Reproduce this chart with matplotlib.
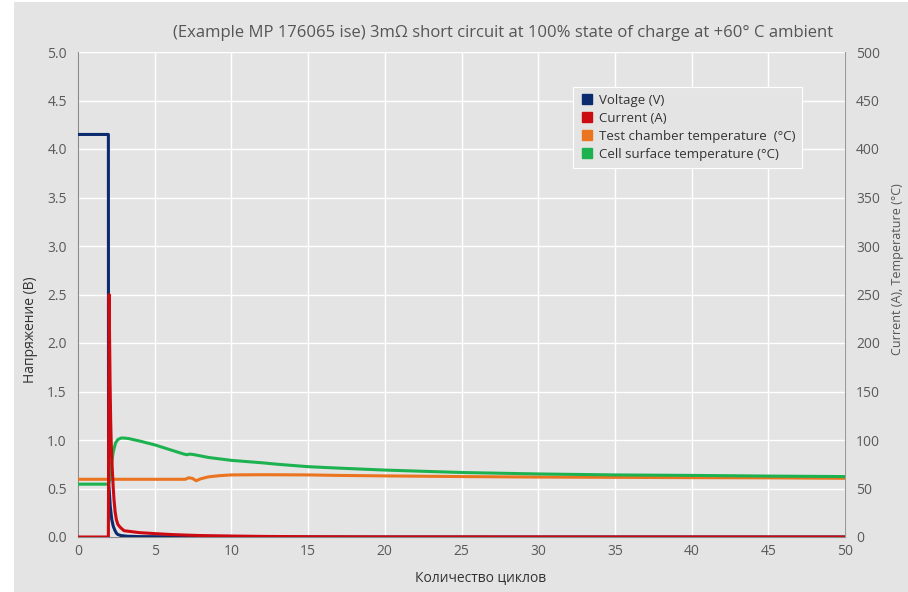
import matplotlib
matplotlib.use("Agg")
import matplotlib.pyplot as plt
from matplotlib.patches import Rectangle
from matplotlib.lines import Line2D

# ---- data ----
volt_x = [0, 1.98, 1.99, 2.0, 2.05, 2.1, 2.2, 2.3, 2.4, 2.5, 2.6, 2.8, 3.2, 4, 10, 50]
volt_y = [4.15, 4.15, 0.65, 0.55, 0.45, 0.32, 0.18, 0.11, 0.07, 0.04, 0.025, 0.015, 0.008, 0.004, 0.0, 0.0]

curr_x = [0, 1.98, 2.03, 2.05, 2.07, 2.09, 2.11, 2.13, 2.16, 2.2, 2.25, 2.3, 2.35, 2.42, 2.5,
          2.6, 2.75, 3.0, 3.5, 4, 5, 6, 7, 8, 10, 12, 15, 20, 30, 50]
curr_y = [0, 0, 250, 215, 190, 160, 140, 120, 100, 82, 65, 50, 38, 26, 18,
          13, 10, 6.5, 5.5, 4.5, 3.5, 2.6, 2.0, 1.5, 1.0, 0.6, 0.3, 0.1, 0.05, 0.0]

cell_x = [0, 2.0, 2.05, 2.15, 2.3, 2.45, 2.6, 2.8, 3.0, 3.3, 4, 5, 6, 6.9, 7.1, 7.3, 7.6,
          8.5, 9.5, 10, 12, 13, 15, 17, 20, 25, 30, 35, 40, 45, 50]
cell_y = [54.5, 54.5, 58, 72, 88, 97, 100.5, 102, 102, 101.5, 99, 95, 90, 85.5, 84.8, 85.5, 84.8,
          82, 80, 79, 76.5, 75, 72.5, 71, 69, 66.5, 65, 64, 63.5, 62.8, 62.3]

chamber_x = [0, 2, 5, 7.0, 7.2, 7.45, 7.7, 8.0, 8.5, 9.2, 10, 12, 15, 17, 20, 25, 30, 35, 40, 45, 50]
chamber_y = [59.5, 59.5, 59.5, 59.5, 61, 60.5, 58, 60, 62, 63.2, 64, 64.2, 64, 63.5, 63, 62.3, 61.8, 61.5, 61.2, 61, 60.5]

title = "(Example MP 176065 ise) 3m\u03a9 short circuit at 100% state of charge at +60\u00b0 C ambient"
legend_labels = ["Voltage (V)", "Current (A)", "Test chamber temperature  (\u00b0C)",
                 "Cell surface temperature (\u00b0C)"]

c_volt = "#0c2a6e"
c_curr = "#cc0a12"
c_chamber = "#ea7420"
c_cell = "#1db250"
bg = "#e4e4e4"
txt = "#5a5a5a"

plt.rcParams['font.family'] = ['Open Sans', 'DejaVu Sans']

fig = plt.figure(figsize=(9.08, 5.92), dpi=100, facecolor="white")
fig.patches.append(Rectangle((14 / 908, 0.0), 1 - 14 / 908, 1 - 2 / 592, transform=fig.transFigure,
                             facecolor=bg, edgecolor="none", zorder=-10))

ax = fig.add_axes([78 / 908, 1 - 537 / 592, (845 - 78) / 908, (537 - 52) / 592])
ax.set_facecolor(bg)
ax2 = ax.twinx()

ax.set_xlim(0, 50)
ax.set_ylim(0, 5.0)
ax2.set_ylim(0, 500)
ax.set_xticks(range(0, 51, 5))
ax.set_yticks([i * 0.5 for i in range(11)])
ax.set_yticklabels([f"{i * 0.5:.1f}" for i in range(11)])
ax2.set_yticks(range(0, 501, 50))

ax.grid(True, color="white", linewidth=1.0)
ax.set_axisbelow(True)

for a in (ax, ax2):
    a.tick_params(length=0, labelsize=10, colors=txt, pad=8)
    for s in a.spines.values():
        s.set_visible(False)
ax.spines['left'].set_visible(True)
ax.spines['left'].set_color("#8a8a8a")
ax.spines['bottom'].set_visible(True)
ax.spines['bottom'].set_color("#8a8a8a")
ax2.spines['right'].set_visible(True)
ax2.spines['right'].set_color("#9a9a9a")
ax.spines['left'].set_linewidth(0.8)
ax.spines['bottom'].set_linewidth(0.8)
ax2.spines['right'].set_linewidth(0.8)
ax.tick_params(axis='x', pad=5)

ax2.set_zorder(ax.get_zorder() + 1)
ax2.patch.set_visible(False)

lw = 2.2
ax2.plot(chamber_x, chamber_y, color=c_chamber, lw=lw, zorder=2)
ax2.plot(cell_x, cell_y, color=c_cell, lw=lw, zorder=3)
# voltage plotted on the left (voltage) scale, drawn in the top layer
ax2.plot(volt_x, volt_y, color=c_volt, lw=lw, zorder=4,
         transform=ax.transData)
ax2.plot(curr_x, curr_y, color=c_curr, lw=lw, zorder=5)

fig.text(30 / 908, 1 - 330 / 592, "Напряжение (В)", rotation=90, ha="center", va="center",
         fontsize=10, color="#333333")
fig.text(897 / 908, 1 - 269 / 592, "Current (A), Temperature (\u00b0C)", rotation=90,
         ha="center", va="center", fontsize=9, color="#555555")
fig.text(481 / 908, 1 - 578 / 592, "Количество циклов", ha="center", va="center",
         fontsize=10, color="#333333")

fig.text(503 / 908, 1 - 33 / 592, title, ha="center", va="center", fontsize=12, color="#555555")

handles = [Line2D([], [], marker="s", linestyle="none", markersize=7, color=c)
           for c in (c_volt, c_curr, c_chamber, c_cell)]
leg = ax2.legend(handles, legend_labels, loc="upper left", bbox_to_anchor=(0.640, 0.937),
                 fontsize=9.5, frameon=True, facecolor=bg, edgecolor="white", framealpha=1,
                 fancybox=False, handletextpad=0.4, borderpad=0.55, labelspacing=0.38,
                 handlelength=1.0, borderaxespad=0.3)
leg.get_frame().set_linewidth(0.8)
for t in leg.get_texts():
    t.set_color("#333333")

fig.savefig("out.png", dpi=100, facecolor=fig.get_facecolor())
